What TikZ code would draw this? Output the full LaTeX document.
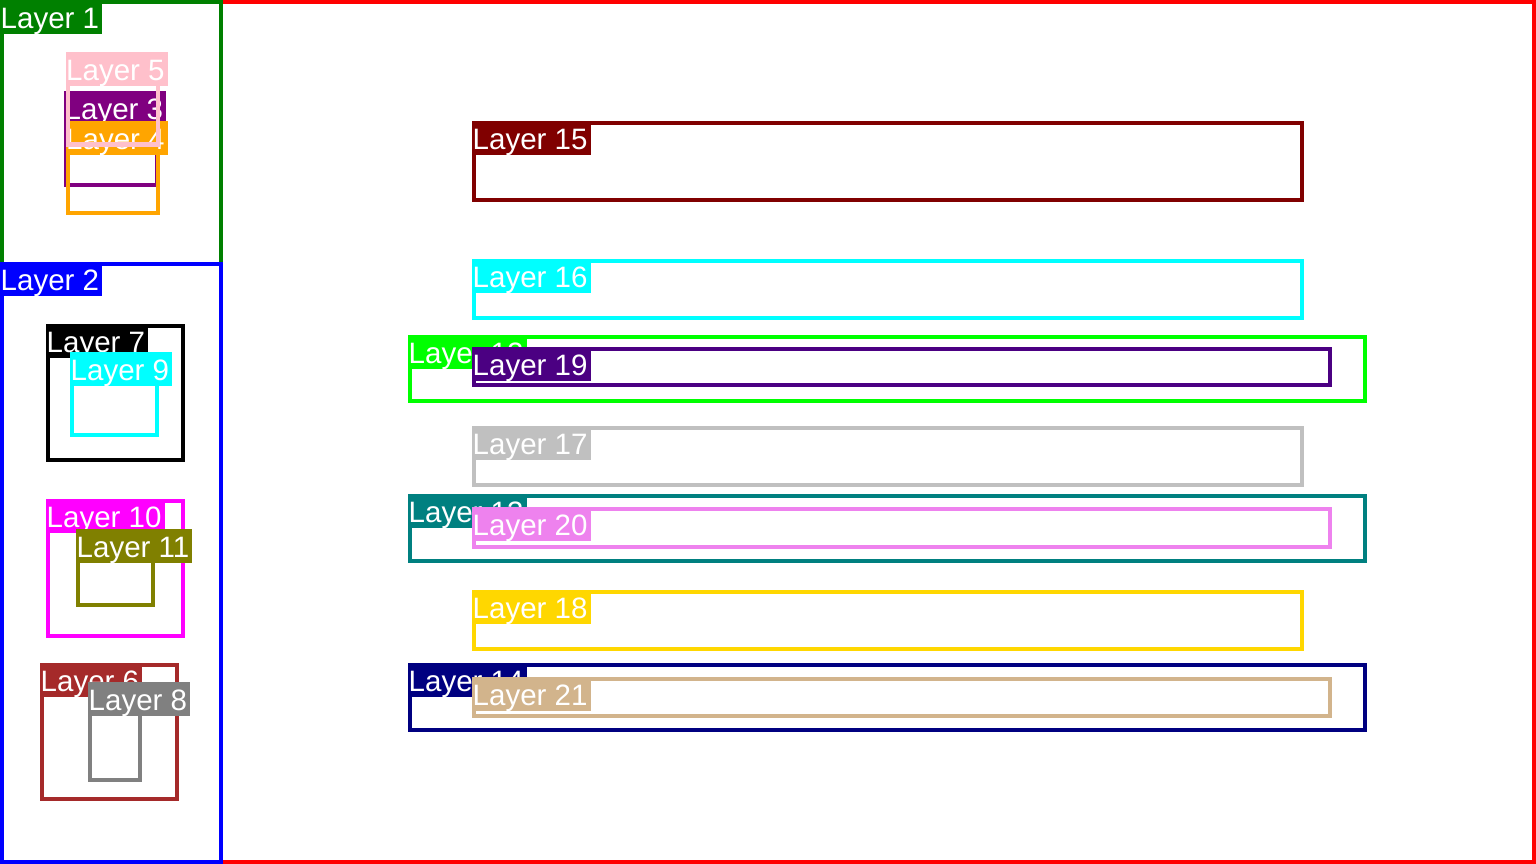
\documentclass[tikz,border=0pt]{standalone}
\usepackage{fontspec}
\setmainfont{Liberation Sans}
\definecolor{cgreen}{RGB}{0,128,0}
\definecolor{cblue}{RGB}{0,0,255}
\definecolor{cred}{RGB}{255,0,0}
\definecolor{cpurple}{RGB}{128,0,128}
\definecolor{corange}{RGB}{255,165,0}
\definecolor{cpink}{RGB}{255,192,203}
\definecolor{cbrown}{RGB}{165,42,42}
\definecolor{cblack}{RGB}{0,0,0}
\definecolor{cgray}{RGB}{128,128,128}
\definecolor{ccyan}{RGB}{0,255,255}
\definecolor{cmagenta}{RGB}{255,0,255}
\definecolor{colive}{RGB}{128,128,0}
\definecolor{clime}{RGB}{0,255,0}
\definecolor{cteal}{RGB}{0,128,128}
\definecolor{cnavy}{RGB}{0,0,128}
\definecolor{cmaroon}{RGB}{128,0,0}
\definecolor{csilver}{RGB}{192,192,192}
\definecolor{cgold}{RGB}{255,215,0}
\definecolor{cindigo}{RGB}{75,0,130}
\definecolor{cviolet}{RGB}{238,130,238}
\definecolor{ctan}{RGB}{210,180,140}
\tikzset{
  layerframe/.style={line width=4pt},
  layerlabel/.style={text=white, anchor=north west, inner xsep=2.5pt, inner ysep=2.5pt,
    text height=25.5pt, text depth=3.5pt, font=\fontsize{29.5}{30}\selectfont},
}
% #1 name, #2 colour, #3 x1, #4 y1, #5 x2, #6 y2, #7 text
\newcommand\layerbox[7]{%
  \draw[layerframe, draw=#2] (#3,#4) rectangle (#5,#6);
  \node[layerlabel, fill=#2] (#1) at (#3-2,#4-2) {\kern-2pt#7\kern0.5pt};
}
\begin{document}
\begin{tikzpicture}[x=1pt,y=-1pt]
\useasboundingbox (0,0) rectangle (1536,864);
\fill[white] (0,0) rectangle (1536,864);
\draw[layerframe, draw=cred] (2,2) rectangle (1534,862);
\layerbox{l1}{cgreen}{2}{2}{221}{264}{Layer 1}
\layerbox{l2}{cblue}{2}{264}{221}{862}{Layer 2}
\layerbox{l3}{cpurple}{66}{93}{157}{185}{Layer 3}
\layerbox{l4}{corange}{67.5}{123}{157.5}{212.5}{Layer 4}
\layerbox{l5}{cpink}{67.5}{54}{157.5}{144.5}{Layer 5}
\layerbox{l6}{cbrown}{42}{665}{177}{799}{Layer 6}
\layerbox{l7}{cblack}{48}{326}{183}{460}{Layer 7}
\layerbox{l8}{cgray}{90}{684}{140}{780}{Layer 8}
\layerbox{l9}{ccyan}{72}{354}{157}{435}{Layer 9}
\layerbox{l10}{cmagenta}{48}{501}{183}{636}{Layer 10}
\layerbox{l11}{colive}{78}{531}{153}{605}{Layer 11}
\layerbox{l12}{clime}{410}{337}{1365}{401}{Layer 12}
\layerbox{l13}{cteal}{410}{496}{1365}{561}{Layer 13}
\layerbox{l14}{cnavy}{410}{665}{1365}{730}{Layer 14}
\layerbox{l15}{cmaroon}{474}{123}{1302}{200}{Layer 15}
\layerbox{l16}{ccyan}{474}{261}{1302}{318}{Layer 16}
\layerbox{l17}{csilver}{474}{428}{1302}{485}{Layer 17}
\layerbox{l18}{cgold}{474}{592}{1302}{649}{Layer 18}
\layerbox{l19}{cindigo}{474}{349}{1330}{385}{Layer 19}
\layerbox{l20}{cviolet}{474}{509}{1330}{547}{Layer 20}
\layerbox{l21}{ctan}{474}{679}{1330}{716}{Layer 21}
\end{tikzpicture}
\end{document}
